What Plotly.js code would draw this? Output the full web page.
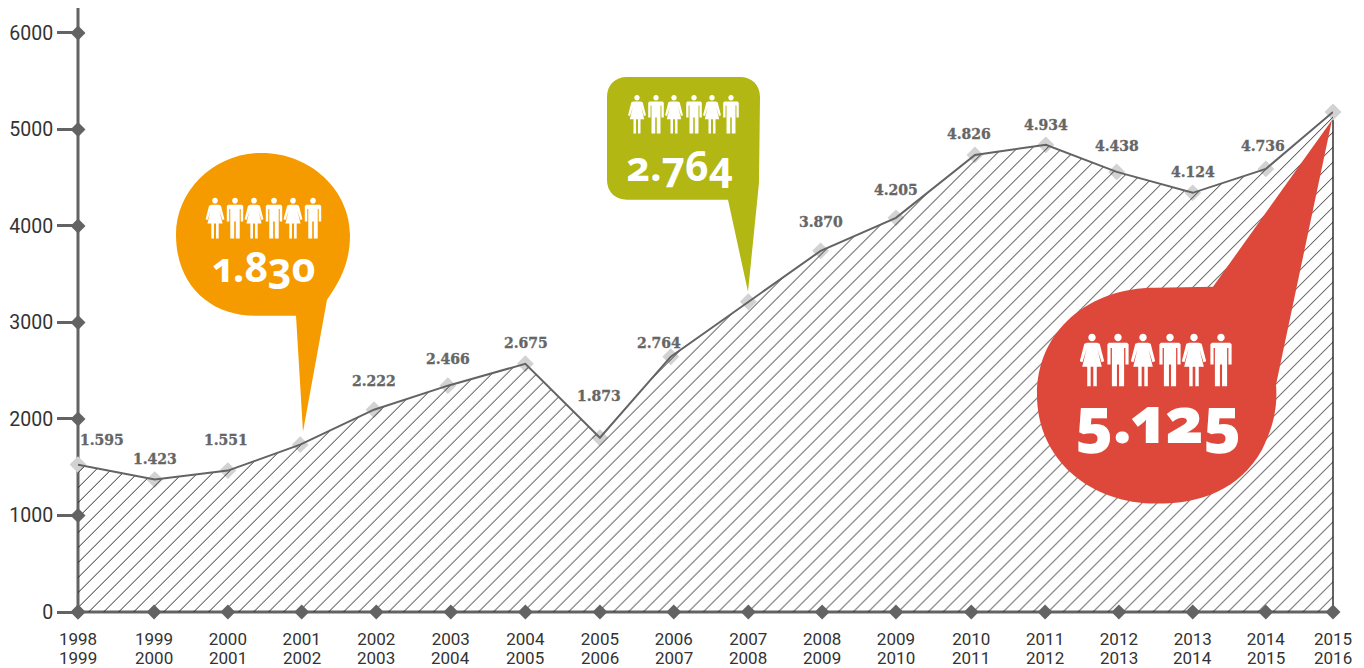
<!DOCTYPE html>
<html>
<head>
<meta charset="utf-8">
<script src="https://cdn.plot.ly/plotly-3.0.1.min.js"></script>
<style>
html,body{margin:0;padding:0;background:#fff;overflow:hidden}
#chart{width:1364px;height:668px}
</style>
</head>
<body>
<div id="chart"></div>
<script>
// Season labels (first / second year)
const seasonStart = ["1998","1999","2000","2001","2002","2003","2004","2005","2006","2007","2008","2009","2010","2011","2012","2013","2014","2015"];
const seasonEnd   = ["1999","2000","2001","2002","2003","2004","2005","2006","2007","2008","2009","2010","2011","2012","2013","2014","2015","2016"];
// Axis positions of seasons
const axisPos  = [0,1.03,2.03,3.03,4.04,5.05,6.06,7.07,8.07,9.08,10.08,11.08,12.10,13.10,14.10,15.10,16.09,17];
const pointPos = [0,1.04,2.03,3.01,4.01,5.01,6.06,7.07,8.03,9.08,10.06,11.08,12.15,13.11,14.07,15.10,16.09,17];
// Plotted heights
const values = [1527,1372,1465,1734,2096,2345,2572,1806,2645,3214,3742,4084,4736,4840,4560,4343,4591,5181];
// Printed value labels (null where a bubble carries the figure)
const printed = ["1.595","1.423","1.551",null,"2.222","2.466","2.675","1.873","2.764",null,"3.870","4.205","4.826","4.934","4.438","4.124","4.736",null];
const labelDx = [24,0,-2,0,0,0,1,-1,-12,0,0,0,-6,0,0,0,-3,0];
const labelDy = [25,21,31,0,29,27,21,42,14,0,29,28,21,20,26,21,23,0];
const yTicks = [0,1000,2000,3000,4000,5000,6000];
const bubbleFigures = ["1.830","2.764","5.125"];

const W = 1364, H = 668, L = 78, R = 1333, T = 8, B = 612.5;
const YMAX = 6258;
const px = x => (x - L) / (R - L);
const py = y => (B - y) / (B - T);
const P = (x, y) => px(x).toFixed(5) + "," + py(y).toFixed(5);

// helpers building paths from pixel templates
function pathFrom(cmds) {
  const out = [];
  cmds.forEach(c => {
    if (c[0] === "L") c.slice(1).forEach(p => out.push("L " + P(p[0], p[1])));
    else out.push(c[0] + " " + c.slice(1).map(p => P(p[0], p[1])).join(" "));
  });
  return out.join(" ") + " Z";
}
function person(cx, top, h, female) {
  const m = (u, v) => [cx + u * h, top + v * h];
  const k = 0.55 * 0.07;
  const head = [
    ["M", m(0, 0)],
    ["C", m(k, 0), m(0.07, 0.07 - k), m(0.07, 0.07)],
    ["C", m(0.07, 0.07 + k), m(k, 0.14), m(0, 0.14)],
    ["C", m(-k, 0.14), m(-0.07, 0.07 + k), m(-0.07, 0.07)],
    ["C", m(-0.07, 0.07 - k), m(-k, 0), m(0, 0)]
  ];
  let body;
  if (female) {
    body = [["M", m(-0.09,0.17)],["L", m(0.09,0.17), m(0.145,0.19), m(0.23,0.52), m(0.18,0.54), m(0.105,0.30), m(0.185,0.625),
      m(0.09,0.625), m(0.09,0.99), m(0.025,0.99), m(0.025,0.625), m(-0.025,0.625), m(-0.025,0.99), m(-0.09,0.99), m(-0.09,0.625),
      m(-0.185,0.625), m(-0.105,0.30), m(-0.18,0.54), m(-0.23,0.52), m(-0.145,0.19)]];
  } else {
    body = [["M", m(-0.17,0.17)],["L", m(0.17,0.17), m(0.2,0.2), m(0.2,0.58), m(0.14,0.58), m(0.14,0.27), m(0.115,0.27), m(0.115,0.99),
      m(0.02,0.99), m(0.02,0.58), m(-0.02,0.58), m(-0.02,0.99), m(-0.115,0.99), m(-0.115,0.27), m(-0.14,0.27), m(-0.14,0.58), m(-0.2,0.58), m(-0.2,0.2)]];
  }
  return pathFrom(head) + " " + pathFrom(body);
}
function shape(path, color) {
  return {type:"path", layer:"above", xref:"paper", yref:"paper", path, fillcolor:color, line:{width:0}};
}
function people(centers, top, h) {
  return shape(centers.map((c, i) => person(c, top, h, i % 2 === 0)).join(" "), "#ffffff");
}

const orange = pathFrom([["M",[296,316]],["L",[303,432],[327,300]],
  ["C",[341,280],[350,262],[350,235]],["C",[350,190],[310,153],[262,153]],["C",[215,153],[176,190],[176,235]],["C",[176,285],[210,316],[255,316]]]);
const green = pathFrom([["M",[728,200]],["L",[748,292],[759,183],[760,97]],["C",[760,85],[752,77],[740,77]],["L",[627,77]],["C",[615,77],[607,85],[607,97]],
  ["L",[607,180]],["C",[607,192],[615,200],[627,200]]]);
const red = pathFrom([["M",[1213,287]],["L",[1332,120],[1276,385]],["C",[1278,410],[1272,430],[1262,450]],["C",[1240,490],[1200,504],[1157,504]],
  ["C",[1090,504],[1037,460],[1037,395]],["C",[1037,330],[1090,288],[1155,288]]]);

const DARK = "#636363";
const last = axisPos.length - 1;
const axisLine = (x0,y0,x1,y1,w) => ({type:"line", layer:"below", xref:"paper", yref:"paper", x0, y0, x1, y1, line:{color:DARK, width:w}});

const shapes = [
  axisLine(0,0,0,1,3),
  axisLine(0,0,1,0,3),
  axisLine(1,0,1,values[last]/YMAX,2),
  shape(orange,"#F59B00"), shape(green,"#B2B713"), shape(red,"#DE483B"),
  people([215,235,254,274,293,313],198,41),
  people([637,656,674,694,712,731],95,39),
  people([1092,1118,1143,1170,1194,1221],334,53)
];

const annotations = [];
printed.forEach((t,i) => { if(t) annotations.push({x:pointPos[i], y:values[i], text:t, showarrow:false, xshift:labelDx[i], yshift:labelDy[i],
  xanchor:"center", yanchor:"middle", font:{family:"DejaVu Serif", size:14, color:"#666666", weight:700}}); });
seasonEnd.forEach((t,i) => annotations.push({x:axisPos[i], xref:"x", yref:"paper", y:py(658.5), text:t, showarrow:false, xanchor:"center", yanchor:"middle",
  borderpad:0, font:{family:"Roboto", size:17, color:"#333333"}}));
const bubbleText = (t,x,y,s,w) => ({xref:"paper", yref:"paper", x:px(x), y:py(y), text:t, showarrow:false, xanchor:"center", yanchor:"middle",
  font:{family:"Open Sans", size:s, color:"#ffffff", weight:w}});
annotations.push(bubbleText(bubbleFigures[0],264,266,41,700), bubbleText(bubbleFigures[1],679,165,41,700), bubbleText(bubbleFigures[2],1158,419,64,800));

const traces = [
  {x:pointPos, y:values, mode:"markers", type:"scatter", marker:{symbol:"diamond", size:13, color:"#d2d2d2"}, hoverinfo:"skip", cliponaxis:false},
  {x:pointPos, y:values, mode:"lines", type:"scatter", fill:"tozeroy", fillcolor:"rgba(0,0,0,0)",
    fillpattern:{shape:"/", size:10.6, solidity:0.09, fgcolor:"#222222", bgcolor:"rgba(0,0,0,0)"},
    line:{color:DARK, width:2}, hoverinfo:"skip"},
  {x:axisPos, y:axisPos.map(()=>0), mode:"markers", type:"scatter", marker:{symbol:"diamond", size:11.5, color:DARK}, hoverinfo:"skip", cliponaxis:false},
  {x:yTicks.map(()=>0), y:yTicks, mode:"markers", type:"scatter", marker:{symbol:"diamond", size:11.5, color:DARK}, hoverinfo:"skip", cliponaxis:false}
];

const layout = {
  width:W, height:H, showlegend:false, paper_bgcolor:"#fff", plot_bgcolor:"rgba(0,0,0,0)",
  margin:{l:L, r:W-R, t:T, b:H-B, pad:0},
  xaxis:{range:[0,17], tickmode:"array", tickvals:axisPos, ticktext:seasonStart, showgrid:false, zeroline:false,
    showline:false, ticks:"", tickangle:0, ticklabelstandoff:15, tickfont:{family:"Roboto", size:17, color:"#333333"}, fixedrange:true},
  yaxis:{range:[0,YMAX], tickmode:"array", tickvals:yTicks, ticktext:yTicks.map(String), showgrid:false, zeroline:false,
    showline:false, ticks:"outside", ticklen:20, tickwidth:3, tickcolor:DARK,
    tickfont:{family:"Roboto", size:19.5, color:"#333333"}, fixedrange:true},
  shapes, annotations
};
Plotly.newPlot("chart", traces, layout, {displayModeBar:false, staticPlot:true}).then(() => {
  document.querySelectorAll(".annotation-text").forEach(el => {
    const t = el.textContent;
    if (bubbleFigures.includes(t) && el.style.fill.replace(/\s/g,"").startsWith("rgb(255,255,255")) {
      el.style.fontFeatureSettings = '"onum" 1,"pnum" 1';
    } else if (printed.includes(t)) {
      el.style.stroke = "#666666";
      el.style.strokeWidth = "0.35px";
    }
  });
});
</script>
</body>
</html>
